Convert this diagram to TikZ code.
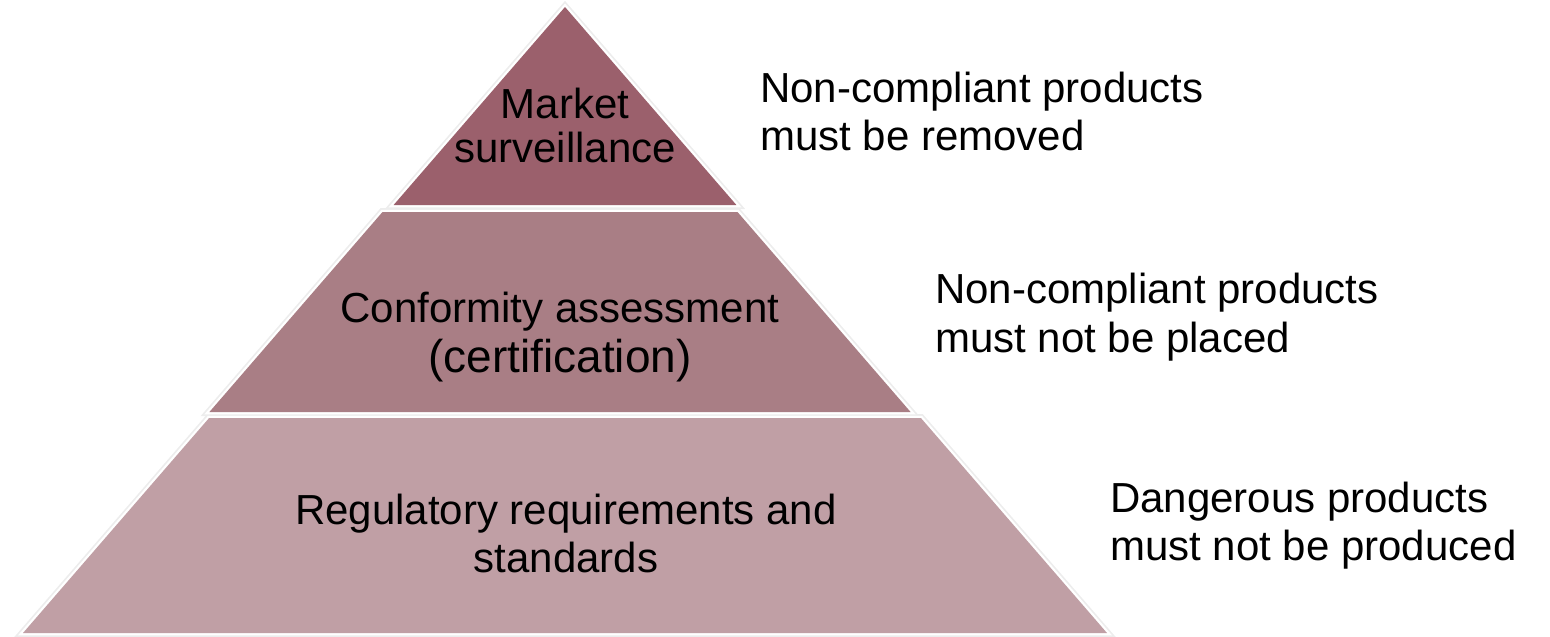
\documentclass[tikz,border=0pt]{standalone}
\usepackage{fontspec}
\setmainfont{Liberation Sans}
\definecolor{topc}{RGB}{155,96,108}
\definecolor{midc}{RGB}{169,126,133}
\definecolor{botc}{RGB}{192,159,165}
\tikzset{
  glow/.style={draw=black!7, line width=8pt, line join=miter},
  rim/.style={draw=white, line width=4.5pt, line join=miter},
  lbl/.style={inner sep=0pt, anchor=base, font=\fontsize{42}{48}\selectfont},
  biglbl/.style={inner sep=0pt, anchor=base, font=\fontsize{46}{50}\selectfont},
  side/.style={inner sep=0pt, anchor=base west, font=\fontsize{42}{48}\selectfont},
}
\begin{document}
\begin{tikzpicture}[x=1pt,y=-1pt]
\useasboundingbox (0,0) rectangle (1550,637);
% pieces
\def\toppiece{(565,7) -- (736.4,205) -- (393.6,205) -- cycle}
\def\midpiece{(382.5,212) -- (737.5,212) -- (910.6,412) -- (209.4,412) -- cycle}
\def\botpiece{(209.1,418) -- (920.9,418) -- (1107,633) -- (23,633) -- cycle}
\path[glow] \toppiece; \path[glow] \midpiece; \path[glow] \botpiece;
\path[rim] \toppiece; \path[rim] \midpiece; \path[rim] \botpiece;
\fill[topc] \toppiece;
\fill[midc] \midpiece;
\fill[botc] \botpiece;
% pyramid labels
\node[lbl] (ms1) at (565,118) {Market};
\node[lbl] (ms2) at (565,162) {surveillance};
\node[lbl] (ca1) at (560,322) {Conformity assessment};
\node[biglbl] (ca2) at (560,372) {(certification)};
\node[lbl] (rr1) at (566,524) {Regulatory requirements and};
\node[lbl] (rr2) at (566,572) {standards};
% side labels
\node[side] (s11) at (760,102) {Non-compliant products};
\node[side] (s12) at (760,150) {must be removed};
\node[side] (s21) at (935,303) {Non-compliant products};
\node[side] (s22) at (935,352) {must not be placed};
\node[side] (s31) at (1110,512) {Dangerous products};
\node[side] (s32) at (1110,560) {must not be produced};
\end{tikzpicture}
\end{document}
